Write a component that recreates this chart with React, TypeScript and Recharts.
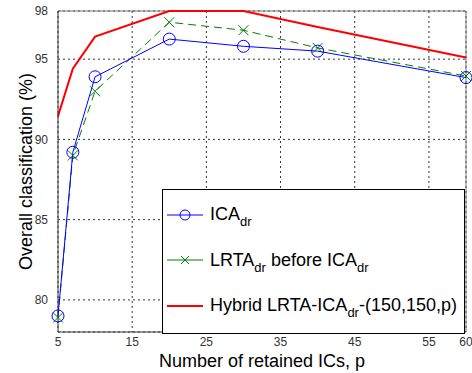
import React from 'react';
import { LineChart, Line, XAxis, YAxis, CartesianGrid, ReferenceLine } from 'recharts';

const ps = [5, 7, 10, 20, 30, 40, 60];
const icaDr = [79.0, 89.2, 93.9, 96.25, 95.8, 95.5, 93.85];
const lrtaBefore = [78.9, 89.0, 93.0, 97.3, 96.8, 95.7, 93.95];
const hybrid = [91.45, 94.4, 96.4, 98.0, 98.0, 97.0, 95.1];
const xTicks = [5, 15, 25, 35, 45, 55, 60];
const yTicks = [80, 85, 90, 95, 98];

const data = ps.map((p, i) => ({ p, ica: icaDr[i], lrta: lrtaBefore[i], hybrid: hybrid[i] }));

const FONT = '"Liberation Sans", Arial, sans-serif';

const CrossDot = (props: any) => {
  const { cx, cy } = props;
  if (cx == null || cy == null) return null;
  const s = 5;
  return (
    <g>
      <line x1={cx - s} y1={cy - s} x2={cx + s} y2={cy + s} stroke="#008000" strokeWidth={1} />
      <line x1={cx - s} y1={cy + s} x2={cx + s} y2={cy - s} stroke="#008000" strokeWidth={1} />
    </g>
  );
};

const YLabel = (props: any) => {
  const { viewBox } = props;
  const cy = viewBox.y + viewBox.height / 2;
  return (
    <text x={26} y={cy} transform={`rotate(-90, 26, ${cy})`} textAnchor="middle" dominantBaseline="central"
      fontSize={18} fill="#000" fontFamily={FONT}>
      Overall classification (%)
    </text>
  );
};

const Sub = ({ children }: { children: React.ReactNode }) => (
  <span style={{ fontSize: 13, position: 'relative', top: 6 }}>{children}</span>
);

const LegendRow = ({ kind, children }: { kind: string; children: React.ReactNode }) => (
  <div style={{ display: 'flex', alignItems: 'center', height: 45.5 }}>
    <svg width={42} height={14} style={{ flexShrink: 0 }}>
      {kind === 'ica' && (
        <>
          <line x1={4} y1={7} x2={40} y2={7} stroke="#0000ff" strokeWidth={1} />
          <circle cx={22} cy={7} r={5} fill="none" stroke="#0000ff" strokeWidth={1} />
        </>
      )}
      {kind === 'lrta' && (
        <>
          <line x1={4} y1={7} x2={40} y2={7} stroke="#008000" strokeWidth={1} />
          <line x1={18} y1={3} x2={26} y2={11} stroke="#008000" strokeWidth={1} />
          <line x1={18} y1={11} x2={26} y2={3} stroke="#008000" strokeWidth={1} />
        </>
      )}
      {kind === 'hybrid' && <line x1={4} y1={7} x2={40} y2={7} stroke="#ff0000" strokeWidth={2} />}
    </svg>
    <span style={{ fontSize: 18, marginLeft: 5, whiteSpace: 'nowrap' }}>{children}</span>
  </div>
);

export default function App() {
  return (
    <div style={{ position: 'absolute', left: 0, top: 0, width: 472, height: 373, background: '#fff', fontFamily: FONT }}>
      <LineChart width={472} height={373} data={data} margin={{ top: 11, right: 6, bottom: 0, left: 0 }}>
        <CartesianGrid stroke="#333" strokeDasharray="2 3" />
        <XAxis dataKey="p" type="number" domain={[5, 60]} ticks={xTicks} height={41}
          tickLine={false} tickSize={0} tickMargin={5} axisLine={{ stroke: '#333' }}
          tick={{ fontSize: 12, fill: '#333', fontFamily: FONT }}
          label={{ value: 'Number of retained ICs, p', position: 'insideBottom', offset: 6, fontSize: 18, fill: '#000', fontFamily: FONT }} />
        <YAxis type="number" domain={[78, 98]} ticks={yTicks} width={58}
          tickLine={false} tickSize={0} tickMargin={10} axisLine={{ stroke: '#333' }}
          tick={{ fontSize: 12, fill: '#333', fontFamily: FONT }}
          label={<YLabel />} />
        <ReferenceLine y={98} stroke="#777" />
        <ReferenceLine x={60} stroke="#777" />
        <Line dataKey="hybrid" stroke="#ff0000" strokeWidth={2} dot={false} isAnimationActive={false} />
        <Line dataKey="lrta" stroke="#008000" strokeWidth={1} strokeDasharray="8 5" dot={<CrossDot />} isAnimationActive={false} />
        <Line dataKey="ica" stroke="#0000ff" strokeWidth={1}
          dot={{ r: 6, fill: 'none', stroke: '#0000ff', strokeWidth: 1 }} isAnimationActive={false} />
      </LineChart>
      <div style={{ position: 'absolute', left: 162, top: 189, width: 301, height: 141, border: '1px solid #000', background: '#fff', paddingTop: 2, boxSizing: 'content-box' }}>
        <LegendRow kind="ica">ICA<Sub>dr</Sub></LegendRow>
        <LegendRow kind="lrta">LRTA<Sub>dr</Sub> before ICA<Sub>dr</Sub></LegendRow>
        <LegendRow kind="hybrid">Hybrid LRTA-ICA<Sub>dr</Sub>-(150,150,p)</LegendRow>
      </div>
    </div>
  );
}
